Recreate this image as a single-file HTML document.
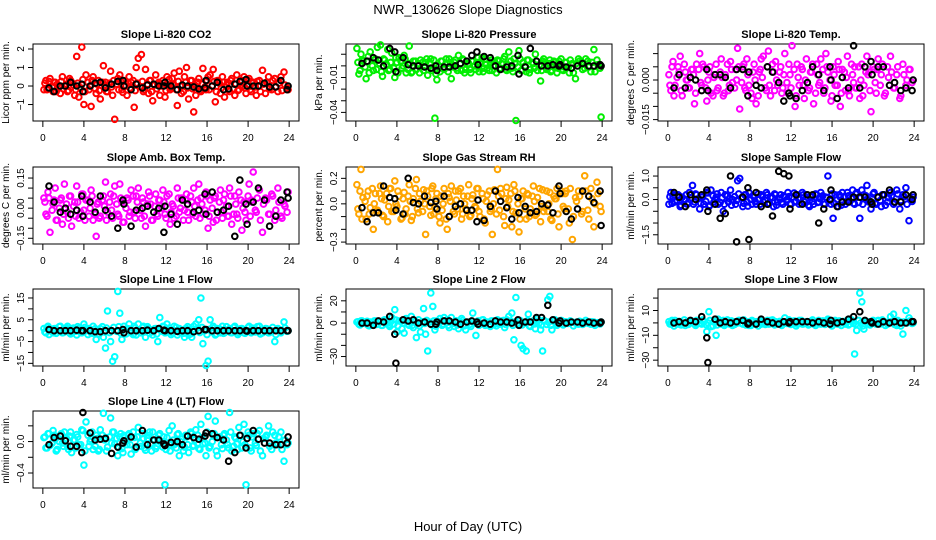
<!DOCTYPE html>
<html><head><meta charset="utf-8"><style>
html,body{margin:0;padding:0;background:#fff;}
svg{display:block;font-family:"Liberation Sans",Arial,sans-serif;}
</style></head><body>
<svg id="chart" width="936" height="540" viewBox="0 0 936 540" xmlns="http://www.w3.org/2000/svg">
<rect x="0" y="0" width="936" height="540" fill="#fff"/>
<text x="468" y="14" text-anchor="middle" font-size="13">NWR_130626  Slope Diagnostics</text>
<text x="468" y="531" text-anchor="middle" font-size="13">Hour of Day (UTC)</text>
<g id="panels"></g>
</svg>
<script>
// shared sample times (hours UTC) for colored series
const hours = [0.1,0.3,0.5,0.7,1.0,1.2,1.4,1.7,1.9,2.1,
2.4,2.6,2.8,3.1,3.3,3.5,3.8,4.0,4.2,4.5,
4.7,4.9,5.2,5.4,5.6,5.9,6.1,6.3,6.6,6.8,
7.0,7.3,7.5,7.7,7.9,8.2,8.4,8.6,8.9,9.1,
9.3,9.6,9.8,10.0,10.3,10.5,10.7,11.0,11.2,11.4,
11.7,11.9,12.1,12.4,12.6,12.8,13.1,13.3,13.5,13.8,
14.0,14.2,14.5,14.7,14.9,15.2,15.4,15.6,15.9,16.1,
16.3,16.6,16.8,17.0,17.3,17.5,17.7,18.0,18.2,18.4,
18.7,18.9,19.1,19.4,19.6,19.8,20.1,20.3,20.5,20.8,
21.1,21.4,21.7,22.0,22.3,22.6,22.9,23.2,23.5,23.9];
// second batch of sample times (core band measurements)
const hoursB = [0.2,0.4,0.6,0.9,1.1,1.3,1.6,1.8,2.0,2.3,
2.5,2.7,3.0,3.2,3.4,3.7,3.9,4.1,4.4,4.6,
4.8,5.1,5.3,5.5,5.8,6.0,6.2,6.5,6.7,6.9,
7.2,7.4,7.6,7.8,8.1,8.3,8.5,8.8,9.0,9.2,
9.5,9.7,9.9,10.2,10.4,10.6,10.9,11.1,11.3,11.6,
11.8,12.0,12.3,12.5,12.7,13.0,13.2,13.4,13.7,13.9,
14.1,14.4,14.6,14.8,15.1,15.3,15.5,15.8,16.0,16.2,
16.5,16.7,16.9,17.2,17.4,17.6,17.9,18.1,18.3,18.6,
18.8,19.0,19.3,19.5,19.7,20.0,20.2,20.4,20.7,20.9,
21.2,21.5,21.8,22.1,22.4,22.7,23.0,23.3,23.6,23.8];
// reference (black) sample times
const refHours = [0.6,1.1,1.7,2.2,2.7,3.3,3.8,3.9,4.6,5.1,
5.6,6.1,6.7,7.3,7.8,7.9,8.6,9.1,9.7,10.2,
10.8,11.3,11.8,11.9,12.5,13.1,13.6,14.1,14.7,15.2,
15.8,15.9,16.5,17.0,17.6,18.1,18.7,19.2,19.8,19.9,
20.5,21.0,21.6,22.1,22.7,23.2,23.8,23.9];
const xTicks = [0,4,8,12,16,20,24];

const co2 = [-0.2,0.3,-0.1,0.4,-0.3,0.2,0.1,-0.4,0.5,0.0,
-0.3,0.4,0.2,-0.5,1.6,-0.6,2.1,-1.0,0.6,-0.2,
-1.1,0.5,-0.4,0.3,-0.7,1.1,0.2,-0.3,0.8,-0.5,
-1.8,0.4,0.6,-0.2,0.3,-0.5,0.5,0.2,-1.15,1.0,
1.5,1.7,-0.3,0.9,-0.4,0.3,-0.8,0.6,0.1,-0.5,
0.3,-0.6,0.5,-0.2,0.4,0.7,-1.05,0.8,-0.4,0.5,
1.0,-0.7,0.3,-1.4,-0.5,0.4,-0.3,0.95,-0.2,0.5,
0.6,0.9,-0.85,0.3,-0.4,0.5,-0.6,0.2,-0.3,0.4,
-0.5,0.6,-0.2,0.3,0.5,-0.4,0.4,-0.3,0.2,-0.5,
0.3,0.85,-0.4,0.5,-0.2,0.4,-0.3,0.5,0.75,-0.2];
const co2Core = [0.15,-0.2,0.25,-0.05,0.2,-0.3,0,0.25,-0.15,0.1,
-0.25,0.3,0.05,-0.2,0.15,-0.1,0.35,-0.3,0.2,0,
0.3,-0.15,0.1,-0.25,0.2,0.05,-0.3,0.15,-0.05,0.3,
0.1,-0.2,0.25,-0.35,0,0.2,-0.1,0.3,-0.25,0.15,
-0.05,0.25,-0.2,0.1,0.3,-0.3,0.05,-0.15,0.2,0,
0.15,-0.25,0.35,-0.1,0.05,-0.2,0.25,0,-0.3,0.2,
-0.1,0.3,-0.15,0.05,0.2,-0.25,0.1,-0.05,0.3,-0.2,
0,0.25,-0.3,0.15,-0.1,0.2,0.05,-0.2,0.3,-0.15,
0.1,-0.25,0.2,0,-0.1,0.3,-0.2,0.15,-0.05,0.25,
-0.3,0.1,0.2,-0.15,0.3,-0.05,0.15,-0.25,0.05,-0.1];
const co2Ref = [-0.1,-0.3,0.0,0.0,0.2,0.0,0.1,-0.3,0.0,0.15,0.2,-0.1,0.1,0.25,0.3,0.0,-0.2,0.1,-0.1,0.05,0.1,0.0,0.0,0.2,0.0,-0.2,0.05,0.0,-0.05,-0.15,-0.1,0.3,0.0,0.2,-0.2,-0.15,0.1,0.25,0.35,0.0,0.0,0.0,0.15,-0.05,-0.05,0.3,-0.2,0.0];

const pres = [0.015,-0.007,0.010,0.004,-0.011,0.008,0.012,-0.004,0.006,0.016,
0.018,-0.009,0.005,0.014,-0.003,0.011,-0.010,0.003,0.007,-0.002,
0.009,-0.006,0.017,-0.006,0.004,-0.003,0.002,0.005,-0.004,0.003,
-0.008,0.006,-0.002,-0.045,-0.012,-0.005,0.004,-0.003,0.002,0.006,
-0.011,0.003,-0.002,0.009,-0.004,0.005,-0.003,0.002,-0.006,0.004,
-0.003,0.007,0.002,-0.005,0.006,-0.002,0.003,-0.004,0.004,0.005,
-0.003,0.002,0.008,-0.004,0.012,-0.002,0.006,-0.047,0.013,-0.004,
0.003,-0.005,0.005,-0.003,0.002,0.010,-0.004,-0.013,0.004,0.003,
-0.002,0.005,-0.004,0.003,-0.006,0.004,-0.003,-0.001,0.003,-0.006,
0.002,-0.011,0.006,0.003,-0.002,0.004,-0.005,0.014,0.005,-0.044];
const presCore = [0.003,-0.004,0.005,-0.001,0.004,-0.006,0,0.005,-0.003,0.002,
-0.005,0.006,0.001,-0.004,0.003,-0.002,0.007,-0.006,0.004,0,
0.006,-0.003,0.002,-0.005,0.004,0.001,-0.006,0.003,-0.001,0.006,
0.002,-0.004,0.005,-0.007,0,0.004,-0.002,0.006,-0.005,0.003,
-0.001,0.005,-0.004,0.002,0.006,-0.006,0.001,-0.003,0.004,0,
0.003,-0.005,0.007,-0.002,0.001,-0.004,0.005,0,-0.006,0.004,
-0.002,0.006,-0.003,0.001,0.004,-0.005,0.002,-0.001,0.006,-0.004,
0,0.005,-0.006,0.003,-0.002,0.004,0.001,-0.004,0.006,-0.003,
0.002,-0.005,0.004,0,-0.002,0.006,-0.004,0.003,-0.001,0.005,
-0.006,0.002,0.004,-0.003,0.006,-0.001,0.003,-0.005,0.001,-0.002];
const presRef = [0.002,0.004,0.007,0.005,0.000,0.015,0.012,-0.005,0.007,0.001,0.000,0.000,-0.001,-0.002,0.000,-0.004,-0.001,-0.001,0.000,0.002,0.004,0.009,0.012,0.001,0.008,0.007,0.000,-0.003,-0.001,0.000,0.009,-0.007,-0.001,0.015,0.004,0.000,0.000,0.001,0.000,0.001,-0.001,-0.002,0.000,0.002,0.000,0.000,0.001,0.000];

const temp = [0.002,-0.004,0.007,-0.002,0.005,0.009,-0.006,0.003,0.000,-0.003,
0.004,-0.009,0.006,0.010,-0.002,0.005,-0.008,0.003,-0.005,0.001,
0.006,-0.003,0.008,-0.006,0.002,-0.004,0.007,-0.001,0.004,0.012,
-0.011,0.005,-0.003,0.008,-0.002,-0.007,0.006,-0.009,0.003,0.008,
0.009,-0.004,0.011,-0.006,0.003,0.007,-0.002,0.005,-0.003,0.010,
-0.005,0.002,0.013,-0.010,0.006,-0.002,0.004,-0.007,0.008,-0.003,
0.003,-0.009,0.006,-0.002,0.008,-0.005,0.010,0.003,-0.008,0.005,
-0.002,0.007,-0.010,0.004,-0.004,0.009,-0.006,0.002,0.005,-0.003,
-0.007,0.006,-0.002,0.009,0.003,-0.012,0.004,-0.005,0.008,0.002,
-0.006,0.005,0.009,-0.003,0.002,-0.007,0.006,-0.002,0.004,0.000];
const tempCore = [-0.002,0.005,-0.006,0.001,0.003,-0.004,0.006,0,-0.003,0.004,
0.002,-0.005,0.004,-0.001,0.006,-0.003,0,0.005,-0.006,0.002,
-0.004,0.003,0.001,-0.005,0.006,-0.002,0.004,-0.003,0,0.005,
-0.001,0.006,-0.004,0.002,-0.005,0.003,0,-0.006,0.004,0.001,
-0.003,0.005,-0.002,0.006,-0.004,0,0.003,-0.005,0.002,-0.001,
0.006,-0.003,0.004,-0.006,0.001,0.005,-0.002,0,-0.004,0.003,
0.006,-0.005,0.002,-0.001,0.004,-0.003,0.005,0,-0.006,0.002,
-0.002,0.004,-0.005,0.003,0.001,-0.004,0.006,-0.001,-0.003,0.005,
0,-0.006,0.003,0.002,-0.004,0.005,-0.001,0.004,-0.002,0.006,
-0.005,0.001,0.003,-0.003,0.005,-0.006,0.002,0,0.004,-0.001];
const tempRef = [-0.003,0.002,-0.003,0.001,0.000,-0.004,0.004,-0.004,0.002,0.002,0.001,-0.003,0.004,0.004,-0.006,0.003,-0.002,-0.003,0.005,0.003,-0.001,-0.008,-0.005,-0.006,-0.007,-0.004,-0.001,0.005,0.002,-0.004,0.005,0.000,-0.007,0.001,-0.003,0.013,-0.003,0.005,0.007,0.002,0.005,0.005,-0.002,-0.001,-0.004,-0.003,-0.004,0.000];

const amb = [0.05,-0.03,0.08,-0.12,0.02,0.10,-0.06,0.04,-0.08,0.12,
-0.02,0.06,-0.09,0.03,0.11,-0.05,0.07,-0.01,0.04,-0.04,
0.09,-0.06,-0.14,0.03,-0.04,0.06,0.13,-0.02,0.07,-0.05,
0.11,-0.03,0.12,0.03,-0.07,0.05,-0.04,0.09,-0.02,0.06,
0.10,-0.05,0.03,-0.09,0.08,0.02,-0.06,0.07,-0.04,0.04,
0.09,-0.03,0.06,-0.08,0.02,-0.05,0.10,-0.02,0.05,-0.01,
0.07,-0.06,0.03,0.10,-0.04,0.12,0.05,-0.03,0.08,-0.10,
0.04,-0.07,0.06,-0.02,0.09,-0.05,0.07,-0.04,0.10,-0.08,
0.06,-0.03,0.08,-0.11,0.03,-0.06,0.12,0.04,0.18,-0.02,
0.09,-0.12,0.05,-0.03,0.07,-0.06,0.10,-0.04,0.02,0.08];
const ambCore = [0.03,-0.04,0.05,-0.01,0.04,-0.06,0,0.05,-0.03,0.02,
-0.05,0.06,0.01,-0.04,0.03,-0.02,0.07,-0.06,0.04,0,
0.06,-0.03,0.02,-0.05,0.04,0.01,-0.06,0.03,-0.01,0.06,
0.02,-0.04,0.05,-0.07,0,0.04,-0.02,0.06,-0.05,0.03,
-0.01,0.05,-0.04,0.02,0.06,-0.06,0.01,-0.03,0.04,0,
0.03,-0.05,0.07,-0.02,0.01,-0.04,0.05,0,-0.06,0.04,
-0.02,0.06,-0.03,0.01,0.04,-0.05,0.02,-0.01,0.06,-0.04,
0,0.05,-0.06,0.03,-0.02,0.04,0.01,-0.04,0.06,-0.03,
0.02,-0.05,0.04,0,-0.02,0.06,-0.04,0.03,-0.01,0.05,
-0.06,0.02,0.04,-0.03,0.06,-0.01,0.03,-0.05,0.01,-0.02];
const ambRef = [0.11,0.03,-0.02,0.00,-0.03,-0.01,0.06,-0.04,0.03,-0.02,0.06,-0.01,-0.04,-0.10,0.04,0.02,-0.09,-0.01,0.00,0.01,-0.02,0.00,-0.12,0.01,-0.03,-0.08,0.04,0.02,-0.02,-0.01,0.07,-0.03,0.08,-0.02,-0.01,0.01,-0.14,0.14,0.02,-0.08,0.03,0.10,0.04,-0.09,-0.04,0.04,0.08,0.05];

const rh = [0.15,-0.08,0.27,0.05,-0.12,0.10,-0.03,-0.20,0.08,-0.05,
0.14,-0.09,0.03,-0.14,0.12,-0.06,0.18,-0.02,0.06,-0.11,
0.09,-0.04,0.15,-0.13,0.04,0.19,-0.07,0.02,0.11,-0.24,
0.06,-0.09,0.14,-0.03,0.08,-0.15,-0.05,0.12,-0.20,0.05,
0.14,-0.08,0.03,0.10,-0.12,0.06,-0.04,0.15,-0.09,0.07,
-0.03,0.12,-0.10,0.04,-0.15,0.07,-0.06,-0.24,0.11,0.27,
-0.05,0.08,-0.17,0.13,0.03,-0.18,0.15,-0.07,-0.22,0.04,
0.10,-0.12,0.07,-0.04,0.14,-0.09,0.05,-0.14,0.11,-0.03,
-0.06,0.09,-0.13,0.04,0.12,-0.18,0.08,-0.04,0.10,-0.15,
-0.28,0.05,0.10,-0.08,0.22,-0.05,0.12,-0.18,0.17,-0.06];
const rhCore = [-0.04,0.10,-0.12,0.02,0.06,-0.08,0.12,0,-0.06,0.08,
0.04,-0.10,0.08,-0.02,0.12,-0.06,0,0.10,-0.12,0.04,
-0.08,0.06,0.02,-0.10,0.12,-0.04,0.08,-0.06,0,0.10,
-0.02,0.12,-0.08,0.04,-0.10,0.06,0,-0.12,0.08,0.02,
-0.06,0.10,-0.04,0.12,-0.08,0,0.06,-0.10,0.04,-0.02,
0.12,-0.06,0.08,-0.12,0.02,0.10,-0.04,0,-0.08,0.06,
0.12,-0.10,0.04,-0.02,0.08,-0.06,0.10,0,-0.12,0.04,
-0.04,0.08,-0.10,0.06,0.02,-0.08,0.12,-0.02,-0.06,0.10,
0,-0.12,0.06,0.04,-0.08,0.10,-0.02,0.08,-0.04,0.12,
-0.10,0.02,0.06,-0.06,0.10,-0.12,0.04,0,0.08,-0.02];
const rhRef = [-0.03,-0.14,-0.07,-0.07,0.14,0.05,0.04,-0.05,-0.08,0.20,0.01,0.00,0.06,0.01,0.02,-0.04,0.06,-0.10,-0.02,0.00,-0.05,-0.05,-0.14,0.03,-0.13,-0.02,0.10,0.02,-0.03,-0.12,0.05,-0.07,-0.02,-0.07,-0.06,0.00,-0.01,-0.07,0.14,0.08,-0.06,-0.12,-0.04,0.10,0.06,0.01,0.10,-0.17];

const sflow = [-0.2,0.3,0.1,-0.1,0.2,-0.3,0.1,0.0,-0.2,0.3,
0.6,-0.1,0.2,-0.4,0.1,-0.2,0.3,-0.3,0.4,-0.1,
0.1,-0.2,0.3,-0.5,0.2,-0.1,0.4,0.0,-0.2,0.8,
0.9,-0.3,0.2,-0.1,0.3,-0.2,0.1,-0.2,0.0,0.2,
-0.1,0.3,-0.2,0.1,-0.3,0.2,-0.1,0.2,-0.2,0.1,
0.3,-0.2,0.1,-0.1,0.2,-0.2,0.3,-0.1,0.2,-0.3,
0.1,-0.2,0.2,-0.1,0.3,-0.2,0.1,1.0,-0.2,-0.8,
0.2,-0.3,0.1,0.3,-0.2,0.3,-0.1,0.4,-0.2,0.3,
-0.8,0.4,0.2,0.6,-0.1,-0.4,0.3,-0.2,0.1,-0.3,
0.2,-0.1,0.3,-0.2,0.4,-0.4,0.2,0.5,-0.9,0.1];
const sflowCore = [0.12,-0.16,0.2,-0.04,0.16,-0.24,0,0.2,-0.12,0.08,
-0.2,0.24,0.04,-0.16,0.12,-0.08,0.28,-0.24,0.16,0,
0.24,-0.12,0.08,-0.2,0.16,0.04,-0.24,0.12,-0.04,0.24,
0.08,-0.16,0.2,-0.28,0,0.16,-0.08,0.24,-0.2,0.12,
-0.04,0.2,-0.16,0.08,0.24,-0.24,0.04,-0.12,0.16,0,
0.12,-0.2,0.28,-0.08,0.04,-0.16,0.2,0,-0.24,0.16,
-0.08,0.24,-0.12,0.04,0.16,-0.2,0.08,-0.04,0.24,-0.16,
0,0.2,-0.24,0.12,-0.08,0.16,0.04,-0.16,0.24,-0.12,
0.08,-0.2,0.16,0,-0.08,0.24,-0.16,0.12,-0.04,0.2,
-0.24,0.08,0.16,-0.12,0.24,-0.04,0.12,-0.2,0.04,-0.08];
const sflowRef = [0.3,0.1,-0.3,0.2,0.0,0.2,0.4,-0.5,-0.2,-0.8,-0.6,1.0,-1.8,0.1,0.5,-1.7,0.3,-0.3,-0.2,-0.7,1.2,1.1,1.0,-0.4,0.2,-0.2,0.2,0.2,-1.0,-0.4,0.0,0.4,-0.3,-0.1,-0.1,0.1,0.1,0.1,-0.1,-0.2,0.1,0.2,0.4,-0.1,-0.1,0.2,0.0,0.2];

const line1 = [1,-1,2,0,-1,1,0,2,-1,1,
2,-1,1,0,-2,1,-1,3,0,1,
-1,2,-4,0,1,-3,-8,9,-5,-14,
-12,18,8,-4,2,1,3,-1,2,-2,
3,-1,2,-3,1,0,-2,1,-5,6,
2,-1,3,0,-1,2,-2,1,0,-3,
1,-2,-3,2,3,5,15,-6,-16,-14,
5,2,-2,1,-1,2,-1,0,1,-1,
2,0,-1,1,-1,0,2,-1,1,0,
2,-1,1,-1,0,-5,1,-1,4,0];
const line1Core = [-0.6,1.5,-1.8,0.3,0.9,-1.2,1.8,0,-0.9,1.2,
0.6,-1.5,1.2,-0.3,1.8,-0.9,0,1.5,-1.8,0.6,
-1.2,0.9,0.3,-1.5,1.8,-0.6,1.2,-0.9,0,1.5,
-0.3,1.8,-1.2,0.6,-1.5,0.9,0,-1.8,1.2,0.3,
-0.9,1.5,-0.6,1.8,-1.2,0,0.9,-1.5,0.6,-0.3,
1.8,-0.9,1.2,-1.8,0.3,1.5,-0.6,0,-1.2,0.9,
1.8,-1.5,0.6,-0.3,1.2,-0.9,1.5,0,-1.8,0.6,
-0.6,1.2,-1.5,0.9,0.3,-1.2,1.8,-0.3,-0.9,1.5,
0,-1.8,0.9,0.6,-1.2,1.5,-0.3,1.2,-0.6,1.8,
-1.5,0.3,0.9,-0.9,1.5,-1.8,0.6,0,1.2,-0.3];
const line1Ref = [0.5,0,0,0,0,0.2,0,0,0,-0.5,-0.5,0,0,0,0.5,-1,0,0,0,0.2,0,1,0.2,0,0,-0.3,0,0,-0.5,0,0.5,0.5,0,0,0,0,0,0,0,-0.2,0,0,0,0,0,0,0,0];

const line2 = [1,-1,2,0,1,-2,1,0,2,-1,
1,-2,3,0,-3,5,12,-8,2,-5,
-9,4,-2,6,-4,-13,3,-8,13,-10,
-25,27,15,-6,2,4,-2,5,3,-4,
5,-3,2,-5,4,-2,-6,1,-3,9,
-11,2,-1,3,-2,1,-3,2,-1,3,
-1,2,-4,3,6,9,-15,23,-2,-20,
-23,-25,8,-3,2,-5,4,-6,-25,2,
21,24,-6,3,-2,1,2,-1,1,0,
1,0,-1,1,0,1,-1,1,0,1];
const line2Core = [1.2,-1.6,2,-0.4,1.6,-2.4,0,2,-1.2,0.8,
-2,2.4,0.4,-1.6,1.2,-0.8,2.8,-2.4,1.6,0,
2.4,-1.2,0.8,-2,1.6,0.4,-2.4,1.2,-0.4,2.4,
0.8,-1.6,2,-2.8,0,1.6,-0.8,2.4,-2,1.2,
-0.4,2,-1.6,0.8,2.4,-2.4,0.4,-1.2,1.6,0,
1.2,-2,2.8,-0.8,0.4,-1.6,2,0,-2.4,1.6,
-0.8,2.4,-1.2,0.4,1.6,-2,0.8,-0.4,2.4,-1.6,
0,2,-2.4,1.2,-0.8,1.6,0.4,-1.6,2.4,-1.2,
0.8,-2,1.6,0,-0.8,2.4,-1.6,1.2,-0.4,2,
-2.4,0.8,1.6,-1.2,2.4,-0.4,1.2,-2,0.4,-0.8];
const line2Ref = [0,0,-2,2,1,6,-10,-36,3,2,3,0,1,-1,-1,1,2,2,1,-1,1,2,1,-1,0,-1,2,1,1,0,3,-2,1,1,5,5,16,3,0,2,0,1,1,0,1,0,0,1];

const line3 = [1,-1,0,2,-1,1,0,-2,1,0,
1,-1,2,0,-1,1,-7,9,-3,1,
-10,3,-1,2,-1,0,1,-2,1,0,
2,-1,1,0,-2,2,-1,1,0,-1,
1,0,-1,2,-1,1,0,-1,1,4,
0,-1,1,0,-1,2,-1,0,1,-1,
1,-1,0,2,-1,0,1,3,-1,0,
2,-1,0,1,-1,2,-1,1,-25,-6,
24,17,-5,1,-1,0,1,-1,2,0,
1,-1,5,7,-2,1,-9,10,4,0];
const line3Core = [-0.8,2,-2.4,0.4,1.2,-1.6,2.4,0,-1.2,1.6,
0.8,-2,1.6,-0.4,2.4,-1.2,0,2,-2.4,0.8,
-1.6,1.2,0.4,-2,2.4,-0.8,1.6,-1.2,0,2,
-0.4,2.4,-1.6,0.8,-2,1.2,0,-2.4,1.6,0.4,
-1.2,2,-0.8,2.4,-1.6,0,1.2,-2,0.8,-0.4,
2.4,-1.2,1.6,-2.4,0.4,2,-0.8,0,-1.6,1.2,
2.4,-2,0.8,-0.4,1.6,-1.2,2,0,-2.4,0.8,
-0.8,1.6,-2,1.2,0.4,-1.6,2.4,-0.4,-1.2,2,
0,-2.4,1.2,0.8,-1.6,2,-0.4,1.6,-0.8,2.4,
-2,0.4,1.2,-1.2,2,-2.4,0.8,0,1.6,-0.4];
const line3Ref = [0,1,0,2,1,5,-12,-32,3,0,1,0,1,2,-1,0,-1,3,1,0,-1,1,0,1,1,1,1,0,1,0,-1,2,0,1,3,5,9,2,1,0,-1,1,0,1,0,0,1,1];

const line4 = [0.05,-0.08,0.10,-0.05,0.14,0.03,-0.10,0.08,-0.02,0.12,
-0.06,0.07,-0.14,0.02,0.09,-0.04,0.15,-0.30,0.25,-0.06,
0.03,-0.10,0.08,-0.12,0.15,0.36,0.05,-0.07,0.30,0.12,
-0.03,-0.18,0.06,-0.09,0.08,-0.04,0.10,-0.16,0.05,-0.08,
0.18,-0.06,0.04,-0.11,0.08,-0.03,0.12,-0.09,0.03,0.10,
-0.07,-0.55,0.05,-0.12,0.20,-0.04,0.09,-0.18,0.03,-0.07,
0.06,-0.14,0.10,-0.05,0.15,-0.09,0.22,-0.03,-0.18,0.32,
-0.06,0.08,0.26,-0.18,0.05,-0.09,0.10,-0.04,0.37,-0.12,
0.06,-0.03,0.18,-0.08,0.22,-0.55,0.08,-0.12,0.10,-0.05,
0.14,-0.18,0.06,0.20,-0.10,0.08,-0.04,0.12,-0.25,-0.02];
const line4Core = [0.06,-0.08,0.1,-0.02,0.08,-0.12,0,0.1,-0.06,0.04,
-0.1,0.12,0.02,-0.08,0.06,-0.04,0.14,-0.12,0.08,0,
0.12,-0.06,0.04,-0.1,0.08,0.02,-0.12,0.06,-0.02,0.12,
0.04,-0.08,0.1,-0.14,0,0.08,-0.04,0.12,-0.1,0.06,
-0.02,0.1,-0.08,0.04,0.12,-0.12,0.02,-0.06,0.08,0,
0.06,-0.1,0.14,-0.04,0.02,-0.08,0.1,0,-0.12,0.08,
-0.04,0.12,-0.06,0.02,0.08,-0.1,0.04,-0.02,0.12,-0.08,
0,0.1,-0.12,0.06,-0.04,0.08,0.02,-0.08,0.12,-0.06,
0.04,-0.1,0.08,0,-0.04,0.12,-0.08,0.06,-0.02,0.1,
-0.12,0.04,0.08,-0.06,0.12,-0.02,0.06,-0.1,0.02,-0.04];
const line4Ref = [-0.04,0.05,0.07,0.01,-0.06,-0.06,-0.14,0.37,0.11,0.02,0.03,0.04,-0.15,-0.07,-0.02,0.01,0.06,-0.07,0.14,-0.04,0.02,0.02,-0.03,-0.05,-0.01,0.00,-0.04,0.07,0.05,0.03,0.07,0.11,0.10,0.05,0.02,-0.25,-0.14,0.08,-0.08,0.04,0.14,0.03,-0.02,-0.02,-0.04,-0.04,-0.02,0.06];

// ticks and labels per panel
const co2Ticks=[-1,0,1,2], co2Labels=["−1","0","1","2"];
const presTicks=[0.01,0,-0.01,-0.02,-0.03,-0.04], presLabels=["","","−0.01","","","−0.04"];
const tempTicks=[0.010,0.005,0,-0.005,-0.010,-0.015], tempLabels=["","","0.000","","","−0.015"];
const ambTicks=[0.15,0.10,0.05,0,-0.05,-0.10,-0.15], ambLabels=["0.15","","","0.00","","","−0.15"];
const rhTicks=[0.2,0.1,0,-0.1,-0.2,-0.3], rhLabels=["0.2","","0.0","","","−0.3"];
const sfTicks=[1,0.5,0,-0.5,-1,-1.5], sfLabels=["1.0","","0.0","","","−1.5"];
const l1Ticks=[15,10,5,0,-5,-10,-15], l1Labels=["15","","5","","−5","","−15"];
const l2Ticks=[20,10,0,-10,-20,-30], l2Labels=["20","","0","","","−30"];
const l3Ticks=[20,10,0,-10,-20,-30], l3Labels=["","10","","−10","","−30"];
const l4Ticks=[0.2,0,-0.2,-0.4], l4Labels=["","0.0","","−0.4"];

// layout (not data)
const colLeft=[33,346,658], rowTop=[44,167,289,411], boxW=266, boxH=77;
const panels=[
 {name:"co2",title:"Slope Li-820 CO2",yl:"Licor ppm per min.",c:0,r:0,ymin:-1.89,ymax:2.27,ticks:co2Ticks,labels:co2Labels,vals:co2,core:co2Core,ref:co2Ref,col:"#ff0000"},
 {name:"pressure",title:"Slope Li-820 Pressure",yl:"kPa per min.",c:1,r:0,ymin:-0.0474,ymax:0.0188,ticks:presTicks,labels:presLabels,vals:pres,core:presCore,ref:presRef,col:"#00ee00"},
 {name:"temp",title:"Slope Li-820 Temp.",yl:"degrees C per min.",c:2,r:0,ymin:-0.01553,ymax:0.01364,ticks:tempTicks,labels:tempLabels,vals:temp,core:tempCore,ref:tempRef,col:"#ff00ff"},
 {name:"amb-box-temp",title:"Slope Amb. Box Temp.",yl:"degrees C per min.",c:0,r:1,ymin:-0.1785,ymax:0.205,ticks:ambTicks,labels:ambLabels,vals:amb,core:ambCore,ref:ambRef,col:"#ff00ff"},
 {name:"gas-stream-rh",title:"Slope Gas Stream RH",yl:"percent per min.",c:1,r:1,ymin:-0.315,ymax:0.289,ticks:rhTicks,labels:rhLabels,vals:rh,core:rhCore,ref:rhRef,col:"#ffa500"},
 {name:"sample-flow",title:"Slope Sample Flow",yl:"ml/min per min.",c:2,r:1,ymin:-1.893,ymax:1.385,ticks:sfTicks,labels:sfLabels,vals:sflow,core:sflowCore,ref:sflowRef,col:"#0000ff"},
 {name:"line1-flow",title:"Slope Line 1 Flow",yl:"ml/min per min.",c:0,r:2,ymin:-16.22,ymax:19.12,ticks:l1Ticks,labels:l1Labels,vals:line1,core:line1Core,ref:line1Ref,col:"#00ffff"},
 {name:"line2-flow",title:"Slope Line 2 Flow",yl:"ml/min per min.",c:1,r:2,ymin:-38.5,ymax:30.6,ticks:l2Ticks,labels:l2Labels,vals:line2,core:line2Core,ref:line2Ref,col:"#00ffff"},
 {name:"line3-flow",title:"Slope Line 3 Flow",yl:"ml/min per min.",c:2,r:2,ymin:-34.7,ymax:27.3,ticks:l3Ticks,labels:l3Labels,vals:line3,core:line3Core,ref:line3Ref,col:"#00ffff"},
 {name:"line4-flow",title:"Slope Line 4 (LT) Flow",yl:"ml/min per min.",c:0,r:3,ymin:-0.591,ymax:0.389,ticks:l4Ticks,labels:l4Labels,vals:line4,core:line4Core,ref:line4Ref,col:"#00ffff"}
];

const NS="http://www.w3.org/2000/svg";
function mk(tag,attrs,parent){const e=document.createElementNS(NS,tag);for(const k in attrs)e.setAttribute(k,attrs[k]);parent.appendChild(e);return e;}
const root=document.getElementById("panels");

panels.forEach(p=>{
  const L=colLeft[p.c], T=rowTop[p.r], R=L+boxW, B=T+boxH;
  const pad=boxW*0.04/1.08;
  const xs=h=>L+pad+(h/24)*(boxW-2*pad);
  const ys=v=>B-(v-p.ymin)/(p.ymax-p.ymin)*boxH;
  const g=mk("g",{},root);
  
  
  const t=mk("text",{x:(L+R)/2,y:T-6,"text-anchor":"middle","font-size":"11","font-weight":"bold"},g);
  t.textContent=p.title;
  
  
  const box=mk("rect",{x:L,y:T,width:boxW,height:boxH,fill:"none",stroke:"#000","stroke-width":"1"},g);
  
  
  const xa=mk("g",{},g);
  
  
  mk("line",{x1:xs(xTicks[0]),x2:xs(xTicks[xTicks.length-1]),y1:B,y2:B,stroke:"#000"},xa);
  xTicks.forEach(v=>{
    mk("line",{x1:xs(v),x2:xs(v),y1:B,y2:B+6,stroke:"#000"},xa);
    const tl=mk("text",{x:xs(v),y:B+20,"text-anchor":"middle","font-size":"10"},xa);
    tl.textContent=String(v);
    
    
  });
  const ya=mk("g",{},g);
  
  
  mk("line",{x1:L,x2:L,y1:ys(p.ticks[0]),y2:ys(p.ticks[p.ticks.length-1]),stroke:"#000"},ya);
  p.ticks.forEach((v,i)=>{
    const y=ys(v);
    mk("line",{x1:L-5,x2:L,y1:y,y2:y,stroke:"#000"},ya);
    if(p.labels[i]){
      const tl=mk("text",{x:L-9,y:y,"text-anchor":"middle","font-size":"10",transform:`rotate(-90 ${L-9} ${y})`},ya);
      tl.textContent=p.labels[i];
      
      
    }
  });
  const yt=mk("text",{x:L-24,y:(T+B)/2,"text-anchor":"middle","font-size":"10",transform:`rotate(-90 ${L-24} ${(T+B)/2})`},g);
  yt.textContent=p.yl;
  
  
  const sg=mk("g",{fill:"none",stroke:p.col,"stroke-width":"2"},g);
  
  
  p.core.forEach((v,i)=>{
    if(i>=hoursB.length||v===undefined) return;
    const c=mk("circle",{cx:xs(hoursB[i]).toFixed(1),cy:ys(v).toFixed(1),r:"2.8"},sg);
    
    
  });
  p.vals.forEach((v,i)=>{
    if(i>=hours.length) return;
    const c=mk("circle",{cx:xs(hours[i]).toFixed(1),cy:ys(v).toFixed(1),r:"2.8"},sg);
    
    
  });
  const rg=mk("g",{fill:"none",stroke:"#000","stroke-width":"2"},g);
  
  
  p.ref.forEach((v,i)=>{
    if(i>=refHours.length) return;
    const c=mk("circle",{cx:xs(refHours[i]).toFixed(1),cy:ys(v).toFixed(1),r:"2.8"},rg);
    
    
  });
});
</script>
</body></html>
